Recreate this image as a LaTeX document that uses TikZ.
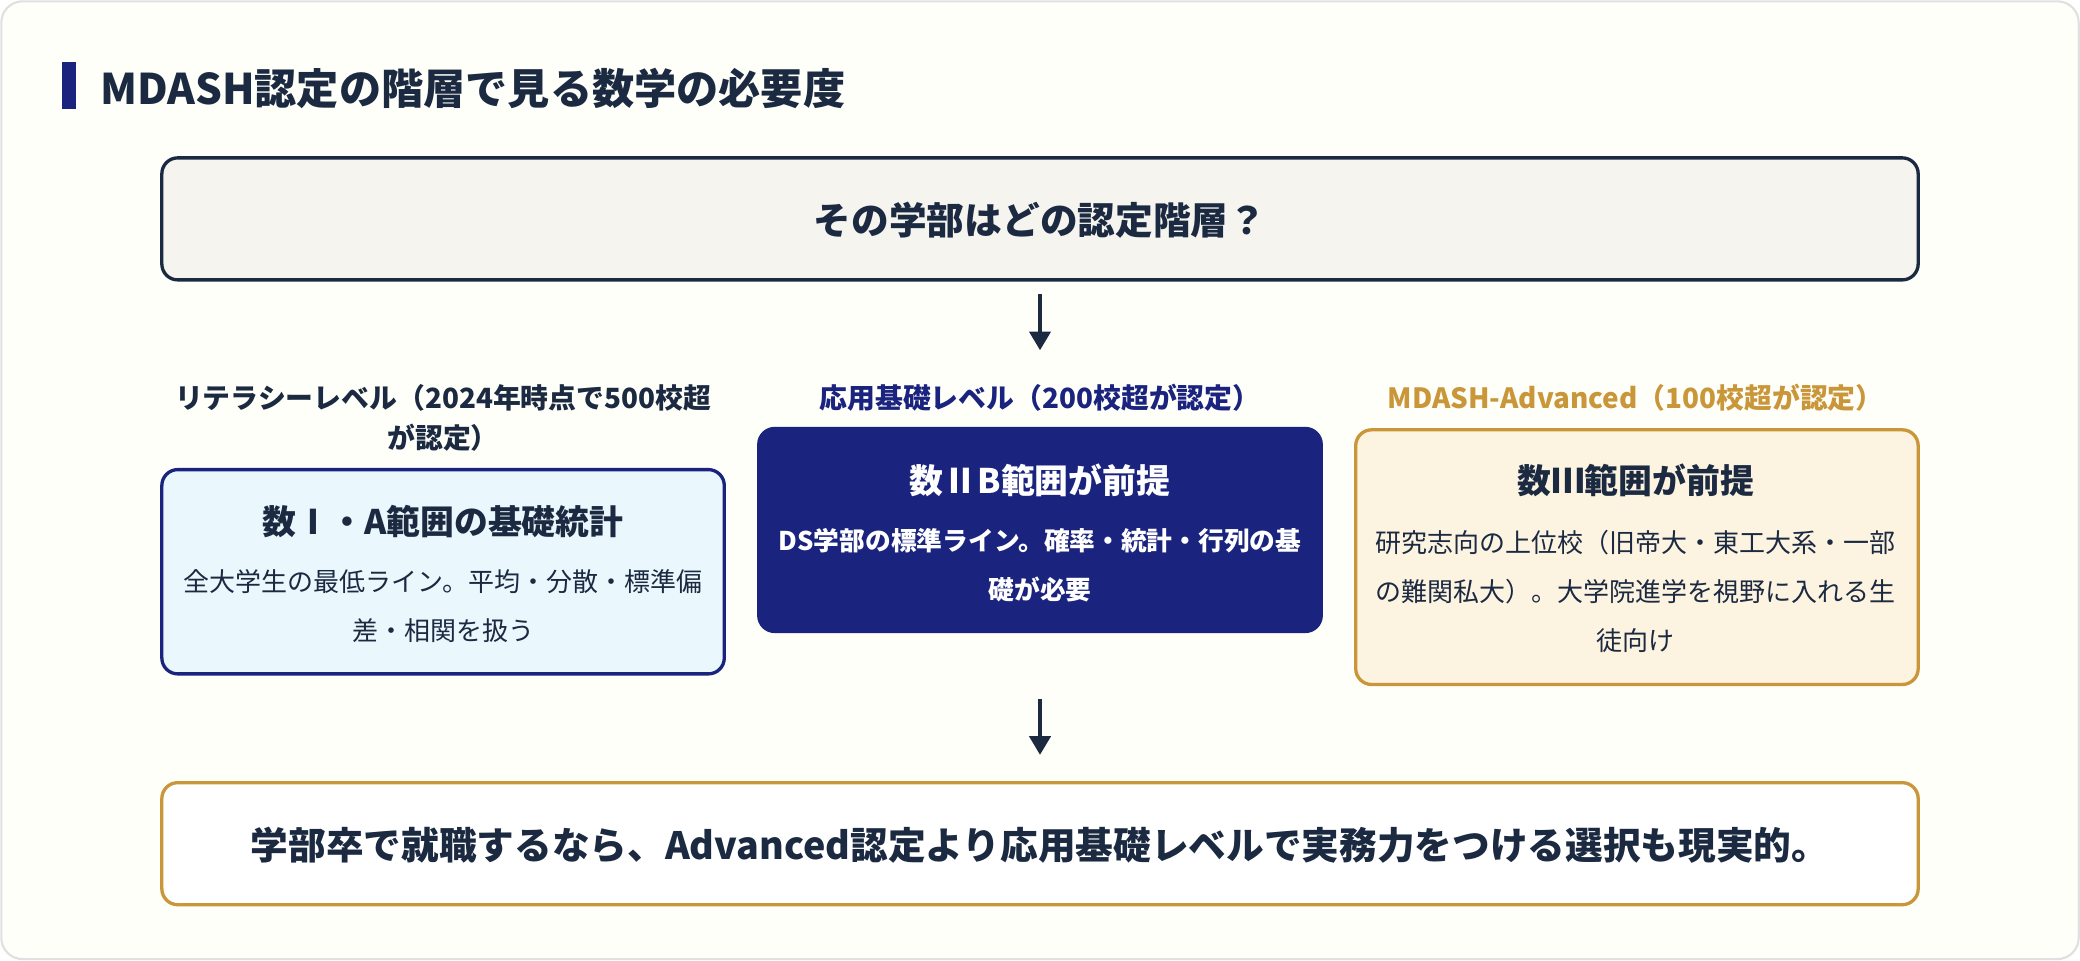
\documentclass[tikz,border=0pt]{standalone}
\usepackage{fontspec}
\setmainfont{Noto Sans CJK JP}
\usetikzlibrary{arrows.meta}
\definecolor{dk}{HTML}{1B2A41}
\definecolor{nv}{HTML}{1A237E}
\definecolor{gd}{HTML}{C9963A}
\definecolor{lb}{HTML}{EAF7FD}
\definecolor{lg}{HTML}{FDF3E1}
\definecolor{tp}{HTML}{F5F4EF}
\begin{document}
\begin{tikzpicture}[x=0.5pt,y=-0.5pt,
 box/.style={rounded corners=6pt,line width=1.25pt},
 arr/.style={-{Triangle[length=7pt,width=8pt]},line width=1.2pt,dk},
 lab/.style={font=\bfseries\fontsize{10.5}{15}\selectfont,align=center},
 ttl/.style={font=\bfseries\fontsize{12.75}{16}\selectfont},
 bdy/.style={font=\fontsize{9.8}{18.5}\selectfont,align=center}]
\useasboundingbox (0,0) rectangle (1568,724);
\draw[rounded corners=8pt,line width=0.8pt,draw=black!12,fill=white!98!yellow] (1,1) rectangle (1567,723);
\fill[nv] (47,47) rectangle (57,82);
\node[anchor=west,text=dk,font=\bfseries\fontsize{15.9}{18}\selectfont,inner sep=0pt] (title) at (75,67) {MDASH認定の階層で見る数学の必要度};
\draw[box,draw=dk,fill=tp] (122,119) rectangle (1446,211);
\node[text=dk,font=\bfseries\fontsize{14.2}{16}\selectfont] (q) at (784,166) {その学部はどの認定階層？};
\coordinate (a1s) at (784,222); \coordinate (a1e) at (784,264);
\draw[arr] (a1s) -- (a1e);
% left
\node[lab,text=dk] (ll) at (334,315) {リテラシーレベル（2024年時点で500校超\\が認定）};
\draw[box,draw=nv,fill=lb] (122,354) rectangle (546,508);
\node[ttl,text=dk] (lt) at (334,393) {数Ⅰ・A範囲の基礎統計};
\node[bdy,text=dk] (lbd) at (334,457) {全大学生の最低ライン。平均・分散・標準偏\\差・相関を扱う};
% middle
\node[lab,text=nv] (ml) at (784,300) {応用基礎レベル（200校超が認定）};
\draw[box,draw=nv,fill=nv] (572,323) rectangle (996,476);
\node[ttl,text=white] (mt) at (784,362) {数ⅡB範囲が前提};
\node[bdy,text=white,font=\bfseries\fontsize{9.7}{18.5}\selectfont] (mbd) at (784,426) {DS学部の標準ライン。確率・統計・行列の基\\礎が必要};
% right
\node[lab,text=gd] (rl) at (1233,300) {MDASH-Advanced（100校超が認定）};
\draw[box,draw=gd,fill=lg] (1022,324) rectangle (1446,516);
\node[ttl,text=dk] (rt) at (1233,362) {数Ⅲ範囲が前提};
\node[bdy,text=dk] (rbd) at (1233,446) {研究志向の上位校（旧帝大・東工大系・一部\\の難関私大）。大学院進学を視野に入れる生\\徒向け};
\coordinate (a2s) at (784,527); \coordinate (a2e) at (784,569);
\draw[arr] (a2s) -- (a2e);
\draw[box,draw=gd,fill=white] (122,590) rectangle (1446,682);
\node[text=dk,font=\bfseries\fontsize{14.2}{16}\selectfont] (c) at (784,637) {学部卒で就職するなら、Advanced認定より応用基礎レベルで実務力をつける選択も現実的。};
\end{tikzpicture}
\end{document}
